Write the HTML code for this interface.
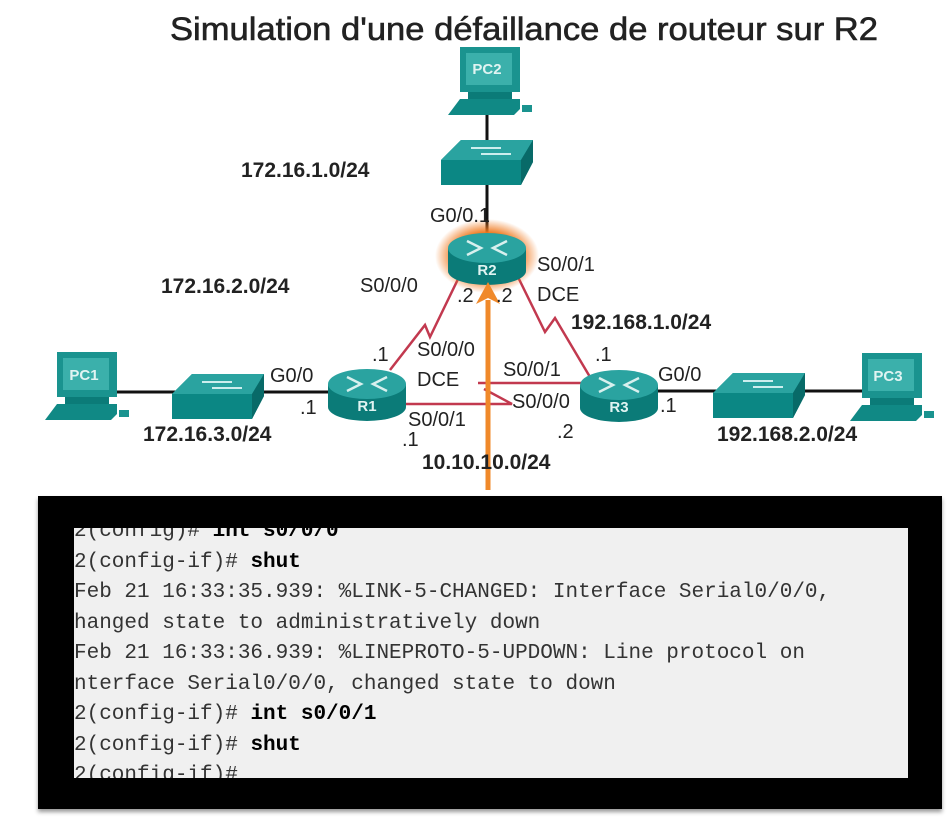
<!DOCTYPE html>
<html><head><meta charset="utf-8"><style>
html,body{margin:0;padding:0;background:#fff;}
body{width:950px;height:824px;position:relative;overflow:hidden;font-family:"Liberation Sans",sans-serif;}
svg{position:absolute;left:0;top:0;}
.term{position:absolute;left:38px;top:496px;width:904px;height:313px;background:#000;box-shadow:0 3px 4px #999;}
.inner{position:absolute;left:74px;top:528px;width:834px;height:250px;background:#f0f0f0;overflow:hidden;}
.inner pre{margin:0;position:absolute;left:0;top:-11px;font-family:"Liberation Mono",monospace;font-size:21px;line-height:30.5px;color:#333;}
.inner b{color:#000;}
</style></head><body>
<svg width="950" height="500" viewBox="0 0 950 500" xmlns="http://www.w3.org/2000/svg">
<defs>
<radialGradient id="glow" cx="50%" cy="50%" r="50%"><stop offset="62%" stop-color="#f07a20"/><stop offset="100%" stop-color="#f07a20" stop-opacity="0"/></radialGradient>
<g id="router">
<path d="M-39,-9 L-39,14 A39,14 0 0 0 39,14 L39,-9 Z" fill="#0b7b78"/>
<ellipse cx="0" cy="-9" rx="39" ry="15" fill="#2aa3a0"/>
<path d="M-20,-16 L-6,-9 L-20,-2 M20,-16 L6,-9 L20,-2" stroke="#d8f0ee" stroke-width="2.5" fill="none"/>
</g>
<g id="switch">
<path d="M0,20 L20,0 L92,0 L92,22 L80,45 L0,45 Z" fill="#0b8784"/>
<path d="M0,20 L20,0 L92,0 L80,20 Z" fill="#2aa3a0"/>
<path d="M80,20 L92,0 L92,22 L80,45 Z" fill="#086a68"/>
<path d="M30,8 L60,8 M40,14 L70,14" stroke="#cdeeee" stroke-width="2"/>
</g>
<g id="pc">
<rect x="12" y="0" width="60" height="45" fill="#1a938f"/>
<rect x="18" y="6" width="46" height="32" fill="#3bb0ab"/>
<path d="M0,68 L12,52 L72,52 L72,62 L66,68 Z" fill="#108985"/>
<rect x="20" y="45" width="44" height="7" fill="#0b7b78"/>
<rect x="74" y="58" width="10" height="7" fill="#1a938f"/>
</g>
</defs>
<text x="170" y="40" font-size="32" fill="#222" stroke="#222" stroke-width="0.6" textLength="708" lengthAdjust="spacingAndGlyphs">Simulation d'une défaillance de routeur sur R2</text>
<!-- lines -->
<line x1="487" y1="110" x2="487" y2="240" stroke="#111" stroke-width="3"/>
<line x1="110" y1="392" x2="340" y2="392" stroke="#111" stroke-width="3"/>
<line x1="650" y1="391" x2="890" y2="391" stroke="#111" stroke-width="3"/>
<g stroke="#c2394f" stroke-width="2.5" fill="none">
<path d="M390,370 L425,325 L430,337 L460,275"/>
<path d="M517,275 L545,332 L555,318 L590,377"/>
<path d="M405,404 L512,404 L484,389"/>
<path d="M478,383 L586,383"/>
</g>
<!-- devices -->
<use href="#pc" x="448" y="47"/>
<use href="#switch" x="441" y="140"/>
<ellipse cx="487" cy="256" rx="52" ry="37" fill="url(#glow)"/>
<use href="#router" x="487" y="257"/>
<use href="#router" x="367" y="393"/>
<use href="#router" x="619" y="394"/>
<use href="#pc" x="45" y="352"/>
<use href="#switch" x="172" y="374"/>
<use href="#switch" x="713" y="373"/>
<use href="#pc" x="850" y="353"/>
<g fill="#e0f4f2" font-weight="bold" font-size="15" text-anchor="middle">
<text x="487" y="74">PC2</text><text x="84" y="380">PC1</text><text x="888" y="381">PC3</text>
<text x="487" y="275">R2</text><text x="367" y="411">R1</text><text x="619" y="412">R3</text>
</g>
<!-- arrow -->
<line x1="488" y1="490" x2="488" y2="300" stroke="#f0892a" stroke-width="5"/>
<path d="M476,304 L488,282 L500,304 L488,298 Z" fill="#f0892a"/>
<g font-size="20" fill="#222">
<text x="430" y="222">G0/0.1</text>
<text x="360" y="292">S0/0/0</text>
<text x="457" y="302">.2</text><text x="496" y="302">.2</text>
<text x="537" y="271">S0/0/1</text><text x="537" y="301">DCE</text>
<text x="372" y="361">.1</text>
<text x="417" y="356">S0/0/0</text><text x="417" y="386">DCE</text>
<text x="503" y="376">S0/0/1</text><text x="595" y="361">.1</text>
<text x="512" y="408">S0/0/0</text><text x="557" y="438">.2</text>
<text x="270" y="382">G0/0</text><text x="300" y="414">.1</text>
<text x="408" y="426">S0/0/1</text><text x="402" y="446">.1</text>
<text x="658" y="381">G0/0</text><text x="660" y="412">.1</text>
</g>
<g font-size="21" font-weight="bold" fill="#222">
<text x="241" y="177">172.16.1.0/24</text>
<text x="161" y="293">172.16.2.0/24</text>
<text x="143" y="441">172.16.3.0/24</text>
<text x="571" y="329">192.168.1.0/24</text>
<text x="717" y="441">192.168.2.0/24</text>
<text x="422" y="469">10.10.10.0/24</text>
</g>
</svg>
<div class="term"></div>
<div class="inner"><pre>2(config)# <b>int s0/0/0</b>
2(config-if)# <b>shut</b>
Feb 21 16:33:35.939: %LINK-5-CHANGED: Interface Serial0/0/0,
hanged state to administratively down
Feb 21 16:33:36.939: %LINEPROTO-5-UPDOWN: Line protocol on
nterface Serial0/0/0, changed state to down
2(config-if)# <b>int s0/0/1</b>
2(config-if)# <b>shut</b>
2(config-if)#</pre></div>
</body></html>
